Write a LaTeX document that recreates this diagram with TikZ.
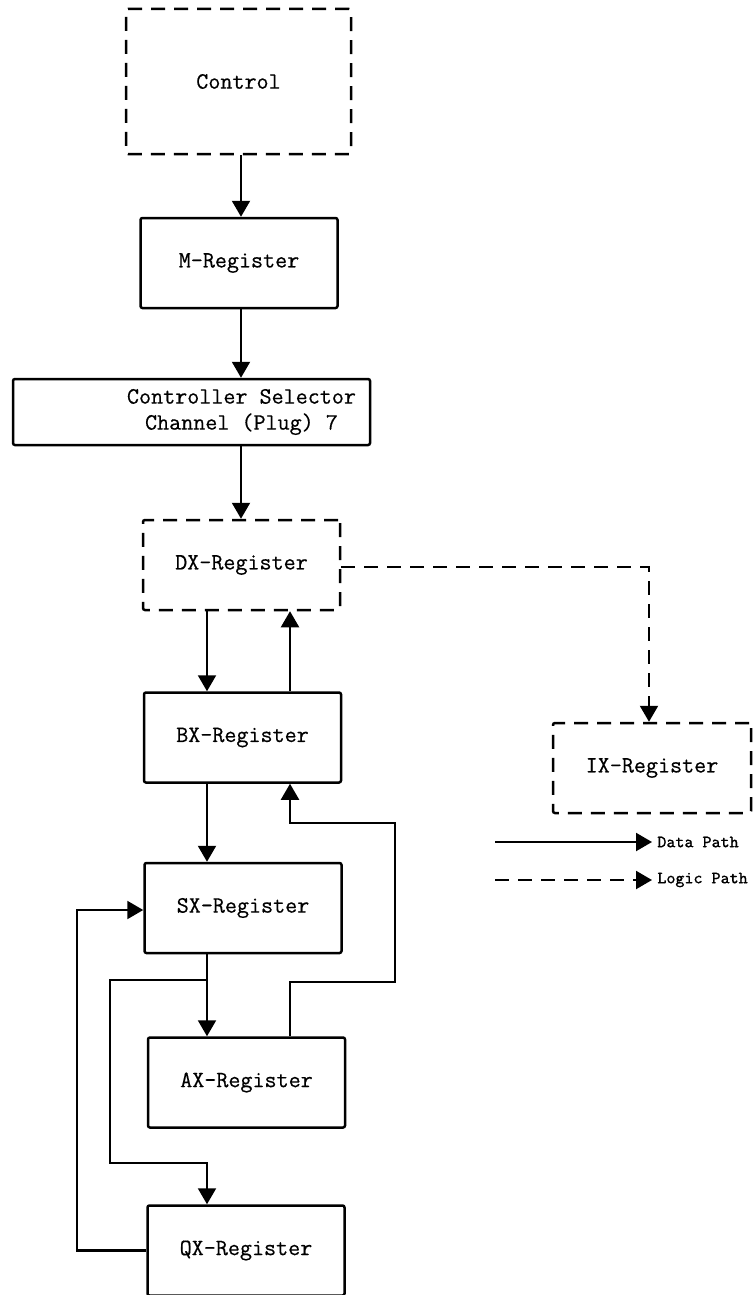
\documentclass[tikz,border=0pt]{standalone}
\usepackage{fontspec}
\setmonofont{Latin Modern Mono}[FakeBold=0.5]
\usetikzlibrary{arrows.meta}
\begin{document}
\begin{tikzpicture}[x=0.5pt,y=-0.5pt,
  font=\fontsize{11.7}{14}\ttfamily,
  regbox/.style={draw, line width=1.25pt, rounded corners=1pt, inner sep=0pt,
    minimum width=98.5pt, minimum height=45pt},
  dashbox/.style={regbox, dash pattern=on 7pt off 4.5pt},
  data/.style={line width=1.05pt, -{Triangle[length=8pt,width=9pt]}},
  logic/.style={data, dash pattern=on 7pt off 4.5pt},
  legendtext/.style={font=\fontsize{8.6}{10}\ttfamily, anchor=west, inner sep=1pt}]
\useasboundingbox (0,0) rectangle (752,1295);

% blocks
\node[dashbox, minimum width=112.5pt, minimum height=72.5pt] (ctrl) at (238.5,81.5) {Control};
\node[regbox] (m) at (239,263) {M-Register};
\node[regbox, minimum width=178.5pt, minimum height=33pt, align=center] (sel) at (191.5,412)
  {\hspace*{50pt}Controller Selector\\[-1pt]\hspace*{50pt}Channel (Plug) 7};
\node[dashbox] (dx) at (241.5,565) {DX-Register};
\node[regbox] (bx) at (242.5,737.5) {BX-Register};
\node[dashbox, minimum width=99pt] (ix) at (652,768) {IX-Register};
\node[regbox] (sx) at (243,908) {SX-Register};
\node[regbox] (ax) at (246.5,1082.5) {AX-Register};
\node[regbox] (qx) at (246,1250.5) {QX-Register};

% routing points
\coordinate (axis) at (241,0);
\coordinate (down) at (207,0);
\coordinate (up) at (290,0);
\coordinate (ixbend) at (649,567);
\coordinate (split) at (207,980);
\coordinate (qa) at (110,980);
\coordinate (qb) at (110,1163);
\coordinate (qc) at (207,1163);
\coordinate (ra) at (395,982);
\coordinate (rb) at (395,823);
\coordinate (back) at (77,910);

% main chain
\draw[data] (ctrl.south -| axis) -- (m.north -| axis);
\draw[data] (m.south -| axis) -- (sel.north -| axis);
\draw[data] (sel.south -| axis) -- (dx.north -| axis);
\draw[data] (dx.south -| down) -- (bx.north -| down);
\draw[data] (bx.north -| up) -- (dx.south -| up);
\draw[logic] (dx.east |- ixbend) -- (ixbend) -- (ix.north -| ixbend);
\draw[data] (bx.south -| down) -- (sx.north -| down);
\draw[data] (sx.south -| down) -- (ax.north -| down);

% branches and feedback loops
\draw[data] (split) -- (qa) -- (qb) -- (qc) -- (qx.north -| qc);
\draw[data] (ax.north -| up) |- (ra) -- (rb) -| (bx.south -| up);
\draw[data] (qx.west) -| (back) -- (sx.west |- back);

% legend
\coordinate (l1a) at (495,842);
\coordinate (l1b) at (652,842);
\coordinate (l2a) at (495,880);
\coordinate (l2b) at (652,880);
\draw[data] (l1a) -- (l1b);
\draw[logic] (l2a) -- (l2b);
\node[legendtext] (ldata) at (655,842) {Data Path};
\node[legendtext] (llogic) at (655,880) {Logic Path};
\end{tikzpicture}
\end{document}
